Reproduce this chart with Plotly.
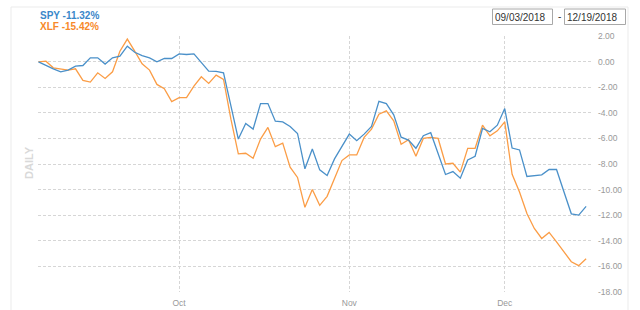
import pandas as pd
import plotly.graph_objects as go

# ---- data ----
holidays = ["2018-11-22", "2018-12-05"]
dates = [d.strftime("%Y-%m-%d") for d in pd.bdate_range("2018-09-04", "2018-12-19")
         if d.strftime("%Y-%m-%d") not in holidays]

spy = [0.00, -0.30, -0.55, -0.78, -0.65, -0.34, -0.29, 0.31, 0.31, -0.18,
       0.31, 0.44, 1.22, 0.75, 0.49, 0.31, 0.00, 0.26, 0.26, 0.62,
       0.57, 0.62, -0.05, -0.73, -0.75, -0.86, -3.45, -6.05, -4.83, -5.27,
       -3.27, -3.27, -4.65, -4.70, -5.06, -5.61, -8.38, -6.82, -8.46, -8.90,
       -7.60, -6.60, -5.66, -6.18, -5.66, -5.06, -3.09, -3.27, -4.15, -5.90,
       -6.13, -6.77, -5.79, -5.55, -7.21, -8.82, -8.59, -9.11, -7.68, -7.39,
       -5.22, -5.48, -4.96, -3.66, -6.75, -6.90, -8.98, -8.90, -8.85, -8.43,
       -8.43, -10.17, -11.90, -12.00, -11.32]

xlf = [0.00, 0.05, -0.47, -0.55, -0.65, -0.55, -1.46, -1.59, -0.86, -1.30,
       -0.78, 0.83, 1.78, 0.83, -0.16, -0.65, -1.77, -2.10, -3.12, -2.80,
       -2.80, -1.90, -1.17, -1.69, -1.04, -1.38, -4.49, -7.21, -7.16, -7.55,
       -6.05, -5.14, -6.64, -6.36, -8.25, -9.05, -11.39, -9.99, -11.24, -10.53,
       -9.11, -7.73, -7.29, -7.29, -5.92, -5.27, -4.10, -3.84, -4.62, -6.45,
       -6.10, -7.40, -6.00, -5.92, -6.00, -8.00, -7.94, -8.64, -6.77, -6.77,
       -4.96, -5.79, -5.40, -4.70, -8.80, -10.20, -11.88, -13.05, -13.83, -13.36,
       -14.09, -14.87, -15.65, -15.96, -15.42]

month_ticks = ["2018-10-01", "2018-11-01", "2018-12-03"]
month_labels = ["Oct", "Nov", "Dec"]
y_ticks = [2, 0, -2, -4, -6, -8, -10, -12, -14, -16, -18]
y_labels = ["%.2f" % v for v in y_ticks]

series_names = ["SPY", "XLF"]
series_changes = ["-11.32%", "-15.42%"]
start_date, end_date = "09/03/2018", "12/19/2018"

# ---- style ----
W, H = 640, 310
ML, MR, MT, MB = 38, 47, 36, 18
PW, PH = W - ML - MR, H - MT - MB
BLUE, ORANGE = "#4a90c9", "#fb9d46"
BLUE_T, ORANGE_T = "#3a87c9", "#f7892a"
GRID = "#d6d6d6"
FONT = "Liberation Sans, Arial, sans-serif"


def px(x):
    return (x - ML) / PW


def py(y):
    return (H - MB - y) / PH


fig = go.Figure()
fig.add_trace(go.Scatter(x=dates, y=xlf, mode="lines", name="XLF",
                         line=dict(color=ORANGE, width=1.3)))
fig.add_trace(go.Scatter(x=dates, y=spy, mode="lines", name="SPY",
                         line=dict(color=BLUE, width=1.3)))

shapes = [
    # outer frame
    dict(type="line", xref="paper", yref="paper", x0=px(11), x1=px(11), y0=py(7), y1=py(320),
         line=dict(color="#ebebeb", width=1)),
    dict(type="line", xref="paper", yref="paper", x0=px(11), x1=px(628), y0=py(7), y1=py(7),
         line=dict(color="#ebebeb", width=1)),
    dict(type="line", xref="paper", yref="paper", x0=px(628), x1=px(628), y0=py(7), y1=py(320),
         line=dict(color="#ebebeb", width=1)),
    # date boxes
    dict(type="rect", xref="paper", yref="paper", x0=px(492.5), x1=px(552.5), y0=py(9), y1=py(24.5),
         line=dict(color="#a8a8a8", width=1), fillcolor="white"),
    dict(type="rect", xref="paper", yref="paper", x0=px(564.5), x1=px(625.5), y0=py(9), y1=py(24.5),
         line=dict(color="#a8a8a8", width=1), fillcolor="white"),
]

annotations = [
    dict(text="<b>%s %s</b>" % (series_names[0], series_changes[0]), x=px(38), y=py(15.5),
         xanchor="left", yanchor="middle", font=dict(size=10, color=BLUE_T, family=FONT)),
    dict(text="<b>%s %s</b>" % (series_names[1], series_changes[1]), x=px(38), y=py(26.5),
         xanchor="left", yanchor="middle", font=dict(size=10, color=ORANGE_T, family=FONT)),
    dict(text=start_date, x=px(493), y=py(17), xanchor="left", yanchor="middle",
         font=dict(size=10, color="#333333", family=FONT)),
    dict(text="-", x=px(559), y=py(16.5), xanchor="center", yanchor="middle",
         font=dict(size=10, color="#333333", family=FONT)),
    dict(text=end_date, x=px(565), y=py(17), xanchor="left", yanchor="middle",
         font=dict(size=10, color="#333333", family=FONT)),
    dict(text="<b>DAILY</b>", x=px(29), y=py(163), textangle=-90, xanchor="center", yanchor="middle",
         font=dict(size=11, color="#d9d9d9", family=FONT)),
]
for a in annotations:
    a.update(xref="paper", yref="paper", showarrow=False)

fig.update_layout(
    width=W, height=H,
    margin=dict(l=ML, r=MR, t=MT, b=MB, pad=0, autoexpand=False),
    paper_bgcolor="white", plot_bgcolor="white",
    showlegend=False,
    shapes=shapes, annotations=annotations,
    font=dict(family=FONT, color="#999999", size=9),
    xaxis=dict(type="category", range=[-0.07, len(dates) - 1 + 0.93],
               tickvals=month_ticks, ticktext=month_labels, automargin=False,
               showgrid=True, gridcolor=GRID, griddash="3px,2px", gridwidth=1,
               zeroline=False, showline=False, ticks="", ticklabelstandoff=4,
               tickfont=dict(size=8.5, color="#999999"), fixedrange=True),
    yaxis=dict(side="right", range=[-18.02, 2.02], automargin=False,
               tickvals=y_ticks, ticktext=y_labels,
               showgrid=True, gridcolor=GRID, griddash="3px,2px", gridwidth=1,
               zeroline=False, showline=False, ticks="", ticklabelstandoff=4,
               tickfont=dict(size=8.5, color="#999999"), fixedrange=True),
)

fig.write_html("out.html")
